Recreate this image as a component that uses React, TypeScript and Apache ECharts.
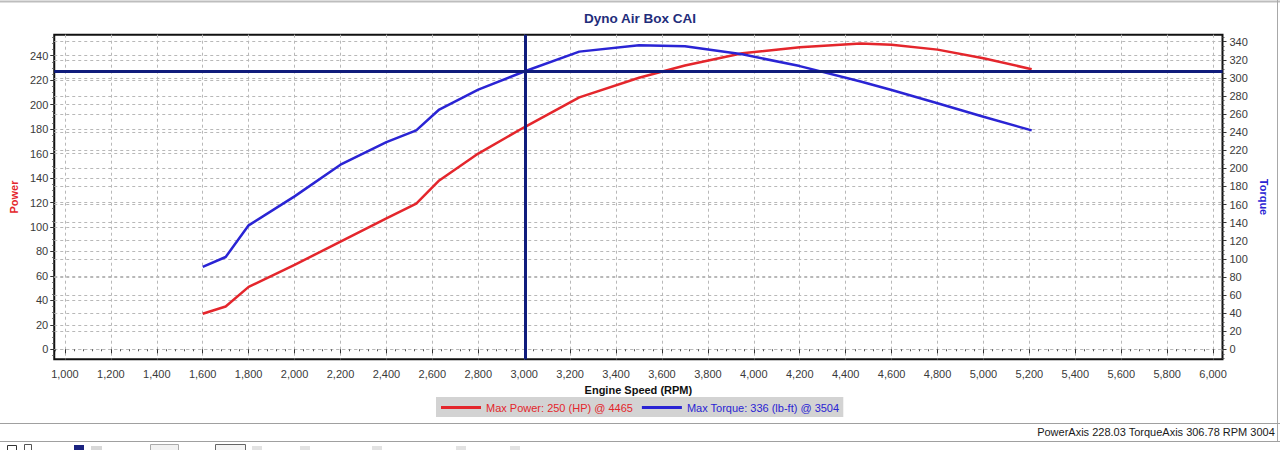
import React, { useEffect, useRef } from "react";
import * as echarts from "echarts";

// Engine speed (RPM) sample points
const rpm = [1600, 1700, 1800, 2000, 2200, 2400, 2530, 2630, 2800, 3000, 3240, 3500, 3700, 3950, 4200, 4465, 4600, 4800, 5000, 5210];
// Power (HP)
const power = [29, 35, 51, 69, 88, 107, 119, 138, 160, 181.5, 206, 222, 232, 242, 247, 250, 249, 245, 238, 229];
// Torque (lb-ft)
const torque = [91, 102, 137, 169, 204, 229, 242, 265, 287, 307, 329, 336, 335, 326, 313, 296, 286.5, 272, 257, 242];

const xTicks = [1000, 1200, 1400, 1600, 1800, 2000, 2200, 2400, 2600, 2800, 3000, 3200, 3400, 3600, 3800, 4000, 4200, 4400, 4600, 4800, 5000, 5200, 5400, 5600, 5800, 6000];
const powerTicks = [0, 20, 40, 60, 80, 100, 120, 140, 160, 180, 200, 220, 240];
const torqueTicks = [0, 20, 40, 60, 80, 100, 120, 140, 160, 180, 200, 220, 240, 260, 280, 300, 320, 340];

const cursorRpm = 3004;
const cursorPower = 228.03;
const cursorTorque = 306.78;

const powerName = "Max Power: 250 (HP) @ 4465";
const torqueName = "Max Torque: 336 (lb-ft) @ 3504";
const titleText = "Dyno Air Box CAI";
const statusText = `PowerAxis ${cursorPower.toFixed(2)} TorqueAxis ${cursorTorque.toFixed(2)} RPM ${cursorRpm}`;

const FONT = "Liberation Sans, Arial, sans-serif";
const RED = "#e4262c";
const BLUE = "#2a24d4";
const NAVY = "#101c7c";
const GRID = "#b8b8b8";
const LABEL = "#3a3a3a";

function multipleOf(v: number, step: number) {
  return Math.abs(v / step - Math.round(v / step)) < 1e-6;
}

export default function App() {
  const ref = useRef<HTMLDivElement>(null);

  useEffect(() => {
    const chart = echarts.init(ref.current!, null, { renderer: "svg" });
    const rowsPower = rpm.map((r, i) => [r, power[i]]);
    const rowsTorque = rpm.map((r, i) => [r, torque[i]]);

    const axisTickStyle = { lineStyle: { color: "#333", width: 1 } };
    const gridLine = { show: true, lineStyle: { color: GRID, width: 1, type: [3, 3] as any } };

    const option: any = {
      animation: false,
      backgroundColor: "#ffffff",
      title: {
        text: titleText,
        left: "center",
        top: 11,
        padding: 0,
        textStyle: { fontFamily: FONT, fontSize: 13.5, fontWeight: "bold", color: "#1f2d7b" },
      },
      grid: {
        left: 51,
        right: 57.5,
        top: 34.7,
        bottom: 90.7,
        show: true,
        borderColor: "#111",
        borderWidth: 2,
        backgroundColor: "#ffffff",
      },
      legend: {
        left: 436,
        top: 397,
        padding: [5, 4, 4, 5],
        backgroundColor: "#d3d3d3",
        itemWidth: 40,
        itemHeight: 3,
        itemGap: 9,
        icon: "rect",
        selectedMode: false,
        textStyle: { fontFamily: FONT, fontSize: 11 },
        data: [
          { name: powerName, textStyle: { color: RED } },
          { name: torqueName, textStyle: { color: BLUE } },
        ],
      },
      xAxis: {
        type: "value",
        min: 953.5,
        max: 6041,
        splitNumber: 25,
        name: "Engine Speed (RPM)",
        nameLocation: "middle",
        nameGap: 21,
        nameTextStyle: { fontFamily: FONT, fontSize: 11, fontWeight: "bold", color: "#111" },
        axisLine: { show: false },
        axisTick: { show: true, customValues: xTicks, length: 4, ...axisTickStyle },
        minorTick: { show: true, splitNumber: 5, length: 2, lineStyle: { color: "#555" } },
        axisLabel: {
          customValues: xTicks,
          margin: 9,
          fontFamily: FONT,
          fontSize: 11,
          color: LABEL,
          formatter: (v: number) => (multipleOf(v, 200) ? v.toLocaleString("en-US") : ""),
        },
        splitLine: gridLine,
      },
      yAxis: [
        {
          type: "value",
          position: "left",
          min: -8.2,
          max: 257.2,
          splitNumber: 13,
          name: "Power",
          nameLocation: "middle",
          nameRotate: 90,
          nameGap: 27,
          nameTextStyle: { fontFamily: FONT, fontSize: 11, fontWeight: "bold", color: RED },
          axisLine: { show: false },
          axisTick: { show: true, customValues: powerTicks, length: 4, ...axisTickStyle },
          minorTick: { show: true, splitNumber: 4, length: 2, lineStyle: { color: "#555" } },
          axisLabel: {
            customValues: powerTicks,
            margin: 6,
            fontFamily: FONT,
            fontSize: 11,
            color: LABEL,
            formatter: (v: number) => (multipleOf(v, 20) ? String(v) : ""),
          },
          splitLine: gridLine,
        },
        {
          type: "value",
          position: "right",
          min: -11.05,
          max: 347.7,
          splitNumber: 18,
          name: "Torque",
          nameLocation: "middle",
          nameRotate: -90,
          nameGap: 28,
          nameTextStyle: { fontFamily: FONT, fontSize: 11, fontWeight: "bold", color: BLUE },
          axisLine: { show: false },
          axisTick: { show: true, customValues: torqueTicks, length: 4, ...axisTickStyle },
          minorTick: { show: true, splitNumber: 4, length: 2, lineStyle: { color: "#555" } },
          axisLabel: {
            customValues: torqueTicks,
            margin: 7,
            fontFamily: FONT,
            fontSize: 11,
            color: LABEL,
            formatter: (v: number) => (multipleOf(v, 20) ? String(v) : ""),
          },
          splitLine: gridLine,
        },
      ],
      series: [
        {
          name: powerName,
          type: "line",
          yAxisIndex: 0,
          data: rowsPower,
          showSymbol: false,
          symbol: "none",
          lineStyle: { color: RED, width: 2.5 },
          itemStyle: { color: RED },
          emphasis: { disabled: true },
          z: 3,
        },
        {
          name: torqueName,
          type: "line",
          yAxisIndex: 1,
          data: rowsTorque,
          showSymbol: false,
          symbol: "none",
          lineStyle: { color: BLUE, width: 2.5 },
          itemStyle: { color: BLUE },
          emphasis: { disabled: true },
          z: 3,
          markLine: {
            silent: true,
            symbol: ["none", "none"],
            label: { show: false },
            emphasis: { disabled: true },
            lineStyle: { color: NAVY, width: 3, type: "solid" },
            data: [{ xAxis: cursorRpm }, { yAxis: cursorTorque }],
            z: 5,
          },
        },
      ],
      graphic: [
        { type: "line", shape: { x1: 0, y1: 1.5, x2: 1280, y2: 1.5 }, style: { stroke: "#bdbdbd", lineWidth: 2 }, silent: true },
        { type: "line", shape: { x1: 1277.5, y1: 0, x2: 1277.5, y2: 441 }, style: { stroke: "#a8a8a8", lineWidth: 1 }, silent: true },
        { type: "line", shape: { x1: 0, y1: 423.5, x2: 1280, y2: 423.5 }, style: { stroke: "#a0a0a0", lineWidth: 1 }, silent: true },
        { type: "line", shape: { x1: 0, y1: 441.5, x2: 1280, y2: 441.5 }, style: { stroke: "#a0a0a0", lineWidth: 1 }, silent: true },
        {
          type: "text",
          right: 5,
          top: 426,
          silent: true,
          style: { text: statusText, font: `11px ${FONT}`, fill: "#1a1a1a" },
        },
        { type: "rect", shape: { x: 7.5, y: 445.5, width: 9, height: 9 }, style: { fill: "#fff", stroke: "#333", lineWidth: 1 }, silent: true },
        { type: "rect", shape: { x: 24.5, y: 444.5, width: 7, height: 9 }, style: { fill: "#fff", stroke: "#555", lineWidth: 1 }, silent: true },
        { type: "rect", shape: { x: 74, y: 445, width: 10, height: 9 }, style: { fill: "#1b2380" }, silent: true },
        { type: "rect", shape: { x: 91, y: 446, width: 11, height: 8 }, style: { fill: "#d8d8d8" }, silent: true },
        { type: "rect", shape: { x: 150.5, y: 444.5, width: 28, height: 10 }, style: { fill: "#f2f2f2", stroke: "#aaa", lineWidth: 1 }, silent: true },
        { type: "rect", shape: { x: 215.5, y: 444.5, width: 30, height: 10 }, style: { fill: "#f5f5f5", stroke: "#666", lineWidth: 1 }, silent: true },
        { type: "rect", shape: { x: 252, y: 446, width: 10, height: 8 }, style: { fill: "#e2e2e2" }, silent: true },
        { type: "rect", shape: { x: 300, y: 446, width: 10, height: 8 }, style: { fill: "#e2e2e2" }, silent: true },
        { type: "rect", shape: { x: 372, y: 446, width: 10, height: 8 }, style: { fill: "#e2e2e2" }, silent: true },
        { type: "rect", shape: { x: 456, y: 446, width: 10, height: 8 }, style: { fill: "#e2e2e2" }, silent: true },
        { type: "rect", shape: { x: 510, y: 446, width: 10, height: 8 }, style: { fill: "#e2e2e2" }, silent: true },
      ],
    };

    chart.setOption(option);
    return () => chart.dispose();
  }, []);

  return <div ref={ref} style={{ position: "absolute", left: 0, top: 0, width: 1280, height: 450 }} />;
}
